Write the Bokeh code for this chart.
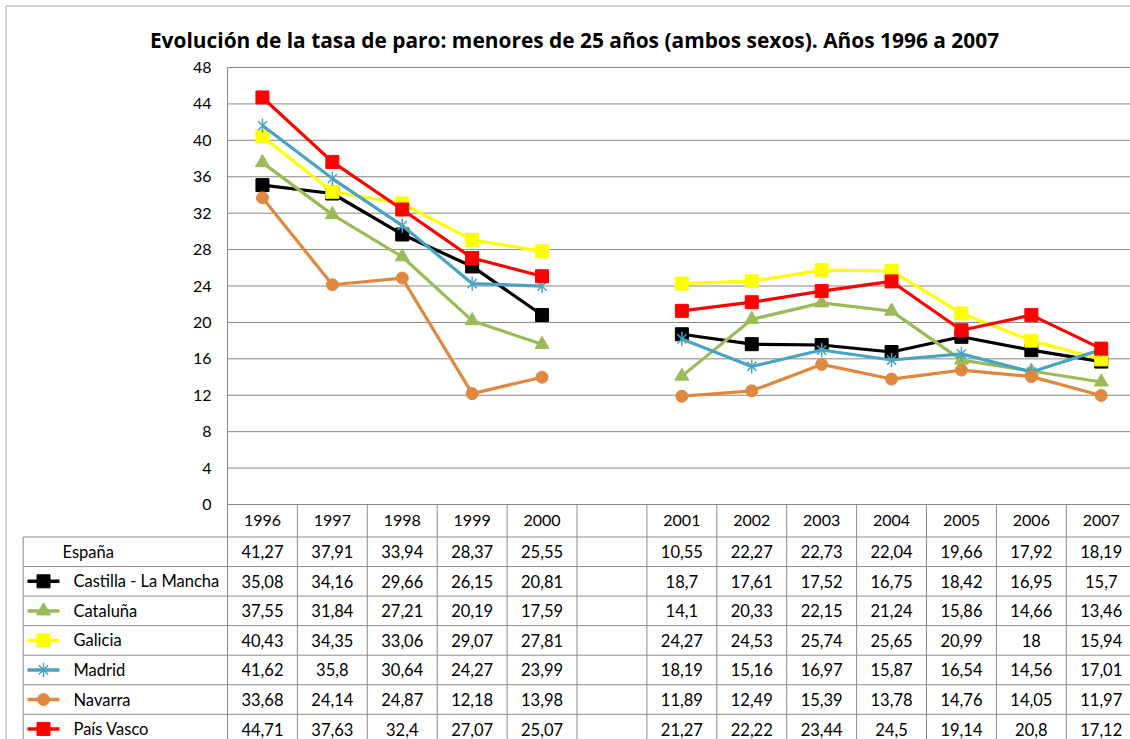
import math
from bokeh.plotting import figure
from bokeh.models import Range1d
from bokeh.embed import file_html
from bokeh.resources import INLINE

# ---------------- data ----------------
years = ["1996", "1997", "1998", "1999", "2000", "", "2001", "2002", "2003", "2004", "2005", "2006", "2007"]
espana = [41.27, 37.91, 33.94, 28.37, 25.55, None, 10.55, 22.27, 22.73, 22.04, 19.66, 17.92, 18.19]
castilla = [35.08, 34.16, 29.66, 26.15, 20.81, None, 18.7, 17.61, 17.52, 16.75, 18.42, 16.95, 15.7]
cataluna = [37.55, 31.84, 27.21, 20.19, 17.59, None, 14.1, 20.33, 22.15, 21.24, 15.86, 14.66, 13.46]
galicia = [40.43, 34.35, 33.06, 29.07, 27.81, None, 24.27, 24.53, 25.74, 25.65, 20.99, 18, 15.94]
madrid = [41.62, 35.8, 30.64, 24.27, 23.99, None, 18.19, 15.16, 16.97, 15.87, 16.54, 14.56, 17.01]
navarra = [33.68, 24.14, 24.87, 12.18, 13.98, None, 11.89, 12.49, 15.39, 13.78, 14.76, 14.05, 11.97]
pais_vasco = [44.71, 37.63, 32.4, 27.07, 25.07, None, 21.27, 22.22, 23.44, 24.5, 19.14, 20.8, 17.12]
row_names = ["España", "Castilla - La Mancha", "Cataluña", "Galicia", "Madrid", "Navarra", "País Vasco"]
y_ticks = [0, 4, 8, 12, 16, 20, 24, 28, 32, 36, 40, 44, 48]
y_tick_labels = [str(v) for v in y_ticks]
title_text = "Evolución de la tasa de paro: menores de 25 años (ambos sexos). Años 1996 a 2007"

rows = [espana, castilla, cataluna, galicia, madrid, navarra, pais_vasco]

# ---------------- styles ----------------
styles = [
    None,
    dict(color="#000000", marker="square", size=13),
    dict(color="#9BBB59", marker="triangle", size=14),
    dict(color="#FFFF00", marker="square", size=13),
    dict(color="#4AA3C2", marker="star", size=13),
    dict(color="#E0893E", marker="circle", size=12),
    dict(color="#FF0000", marker="square", size=13),
]
FONT = "Lato"
TITLE_FONT = "Open Sans"
GRID = "#868686"
TBL = "#8C8C8C"
BORDER = "#A6A6A6"

# ---------------- layout constants (canvas pixels) ----------------
W, H = 1130, 739
PLOT_LEFT = 227
Y48 = 67
Y0 = 504
HDR_BOTTOM = 536.5
COL_W = 69.9
ROW_H = 29.55
TABLE_LEFT = 22.7
KEY_X0, KEY_XC, KEY_X1 = 27, 43, 59
LBL_X_ESP, LBL_X = 62, 73
TICK_LBL_RIGHT = 211
TITLE_CX, TITLE_BASE = 574, 39
FRAME_X, FRAME_Y = 5.5, 5.5

ppu = (Y0 - Y48) / 48.0


def px_to_x(px):
    return -0.5 + (px - PLOT_LEFT) / COL_W


def py_to_y(py):
    return (Y0 - py) / ppu


def py_to_row(py):
    return -0.5 + (py - HDR_BOTTOM) / ROW_H


def nanify(vals):
    return [float("nan") if v is None else v for v in vals]


def fmt(v):
    return ("%g" % v).replace(".", ",")


xs = list(range(len(years)))
x_left, x_right = px_to_x(0), px_to_x(W)

p = figure(width=W, height=H,
           x_range=Range1d(x_left, x_right), y_range=Range1d(py_to_y(H), py_to_y(0)),
           x_axis_location=None, y_axis_location=None, output_backend="svg",
           toolbar_location=None, min_border=0, min_border_left=0, min_border_right=0,
           min_border_top=0, min_border_bottom=0)
p.extra_y_ranges = {"table": Range1d(py_to_row(H), py_to_row(0))}
p.grid.visible = False
p.outline_line_color = None
p.background_fill_color = "white"
p.border_fill_color = "white"

# chart-area border
p.segment(x0=[px_to_x(FRAME_X), px_to_x(FRAME_X)], y0=[py_to_y(FRAME_Y), py_to_y(FRAME_Y)],
          x1=[x_right + 1, px_to_x(FRAME_X)], y1=[py_to_y(FRAME_Y), py_to_y(H + 5)],
          line_color=BORDER, line_width=1)

# title
p.text(x=[px_to_x(TITLE_CX)], y=[py_to_y(TITLE_BASE)], text=[title_text],
       text_align="center", text_baseline="alphabetic",
       text_font={"value": TITLE_FONT}, text_font_size="20.9px", text_font_style="bold",
       text_color="#000000")

# horizontal grid lines
n = len(y_ticks)
p.segment(x0=[-0.5] * n, y0=y_ticks, x1=[x_right + 1] * n, y1=y_ticks,
          line_color=GRID, line_width=1)
# value axis line (continues as left border of header row)
y_hdr_bottom = py_to_y(HDR_BOTTOM)
p.segment(x0=[-0.5], y0=[y_hdr_bottom], x1=[-0.5], y1=[max(y_ticks)], line_color=GRID, line_width=1)
# tick labels
p.text(x=[px_to_x(TICK_LBL_RIGHT)] * n, y=y_ticks, text=y_tick_labels,
       text_align="right", text_baseline="middle",
       text_font={"value": FONT}, text_font_size="16px", text_color="#000000")

# header row (years)
bounds = [i - 0.5 for i in range(1, len(years) + 1)]
p.segment(x0=bounds, y0=[y_hdr_bottom] * len(bounds), x1=bounds, y1=[0] * len(bounds),
          line_color=TBL, line_width=1)
hdr_y = (0 + y_hdr_bottom) / 2.0
p.text(x=xs, y=[hdr_y] * len(xs), text=years, text_align="center", text_baseline="middle",
       text_font={"value": FONT}, text_font_size="16px", text_color="#000000")


def draw_marker(x, y, st, **kw):
    if st["marker"] == "star":
        p.scatter(x, y, marker="x", size=st["size"], line_color=st["color"], line_width=1.5, **kw)
        p.scatter(x, y, marker="dash", size=st["size"] * 1.1, angle=math.pi / 2,
                  line_color=st["color"], line_width=1.5, **kw)
    else:
        p.scatter(x, y, marker=st["marker"], size=st["size"], fill_color=st["color"],
                  line_color=st["color"], **kw)


# series lines
for vals, st in zip(rows, styles):
    if st is None:
        continue
    yv = nanify(vals)
    p.line(xs, yv, line_color=st["color"], line_width=3.2)
    draw_marker(xs, yv, st)

# ---------------- data table ----------------
nrows = len(row_names)
xl = px_to_x(TABLE_LEFT)
hy = [k - 0.5 for k in range(nrows + 1)]
p.segment(x0=[xl] * len(hy), y0=hy, x1=[x_right + 1] * len(hy), y1=hy,
          line_color=TBL, line_width=1, y_range_name="table")
vx = [xl, -0.5] + bounds
p.segment(x0=vx, y0=[-0.5] * len(vx), x1=vx, y1=[nrows + 1] * len(vx),
          line_color=TBL, line_width=1, y_range_name="table")

cx, cy, ct = [], [], []
for r, vals in enumerate(rows):
    for c, v in enumerate(vals):
        if v is None:
            continue
        cx.append(c)
        cy.append(r)
        ct.append(fmt(v))
p.text(x=cx, y=cy, text=ct, text_align="center", text_baseline="middle",
       text_font={"value": FONT}, text_font_size="16.5px", text_color="#000000",
       y_range_name="table")

lx = [px_to_x(LBL_X_ESP if r == 0 else LBL_X) for r in range(nrows)]
p.text(x=lx, y=list(range(nrows)), text=row_names, text_align="left", text_baseline="middle",
       text_font={"value": FONT}, text_font_size="16.5px", text_color="#000000",
       y_range_name="table")

for r, st in enumerate(styles):
    if st is None:
        continue
    p.line([px_to_x(KEY_X0), px_to_x(KEY_X1)], [r, r], line_color=st["color"], line_width=3.5,
           y_range_name="table")
    draw_marker([px_to_x(KEY_XC)], [r], st, y_range_name="table")

open("out.html", "w").write(file_html(p, INLINE))
